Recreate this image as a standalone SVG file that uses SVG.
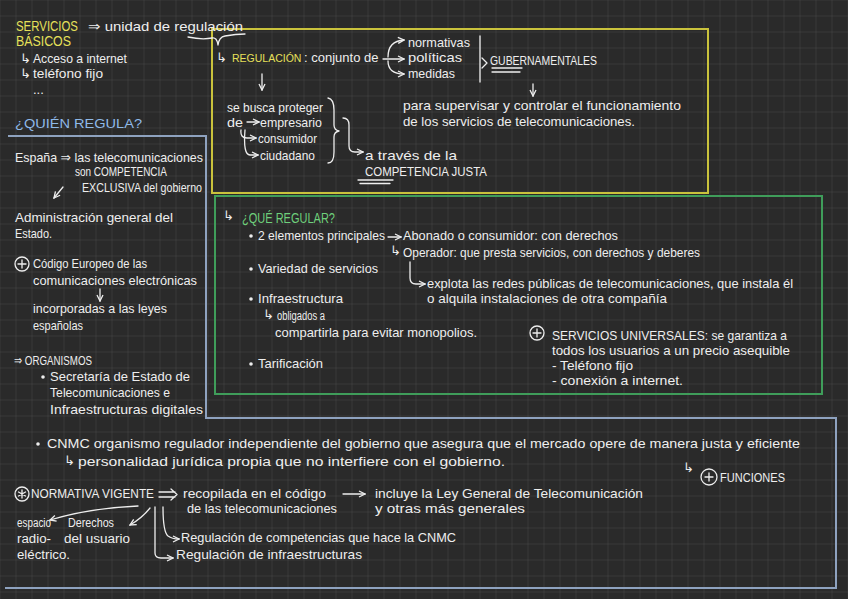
<svg xmlns="http://www.w3.org/2000/svg" width="848" height="599" viewBox="0 0 848 599">
<defs>
<pattern id="grid" x="15.5" y="15.5" width="16" height="16" patternUnits="userSpaceOnUse">
<path d="M0,0 H16 M0,0 V16" fill="none" stroke="#484848" stroke-width="1"/>
</pattern>
<marker id="ah" viewBox="0 0 8 8" refX="7" refY="4" markerWidth="8" markerHeight="8" markerUnits="userSpaceOnUse" orient="auto">
<path d="M1,1 L7,4 L1,7" fill="none" stroke="#eeeeee" stroke-width="1.3"/>
</marker>
<style>
text{font-family:"Liberation Sans","DejaVu Sans",sans-serif;font-size:13px;fill:#eeeeee}
.y{fill:#e6e05a}
.g{fill:#6fd07c}
.b{fill:#8fb9e8}
.cap{font-size:14px}
.sm{font-size:12px}
.sym{font-family:"DejaVu Sans",sans-serif}
.c{fill:none;stroke:#eeeeee;stroke-width:1.3;stroke-linecap:round;stroke-linejoin:round}
.ca{fill:none;stroke:#eeeeee;stroke-width:1.3;stroke-linecap:round;marker-end:url(#ah)}
.dot{fill:#eeeeee}
</style>
</defs>
<rect width="848" height="599" fill="#2a2a2a"/>
<rect width="848" height="599" fill="url(#grid)"/>

<g id="frames" fill="none" stroke-width="2">
<rect x="212" y="29" width="496" height="164" stroke="#c9c23c"/>
<rect x="215" y="196" width="607" height="198" stroke="#3f9d5a"/>
<path d="M8,136 H206 V418 H836 V588 H5" stroke="#8ea2bf"/>
</g>

<g id="servicios-basicos">
<text x="16" y="31" class="y cap" textLength="62" lengthAdjust="spacingAndGlyphs">SERVICIOS</text>
<text x="16" y="46" class="y cap" textLength="55" lengthAdjust="spacingAndGlyphs">BÁSICOS</text>
<text x="88" y="31" textLength="155" lengthAdjust="spacingAndGlyphs">⇒ unidad de regulación</text>
<text x="20" y="63" class="sym" font-size="11">↳</text>
<text x="33" y="63" textLength="94" lengthAdjust="spacingAndGlyphs">Acceso a internet</text>
<text x="20" y="78" class="sym" font-size="11">↳</text>
<text x="33" y="78" textLength="70" lengthAdjust="spacingAndGlyphs">teléfono fijo</text>
<text x="33" y="94" font-size="10">...</text>
</g>

<g id="regulacion">
<text x="216" y="62" class="sym" font-size="11">↳</text>
<text y="62"><tspan x="232" class="y" font-size="10.5">REGULACIÓN</tspan><tspan x="304">: conjunto de</tspan></text>
</g>

<g id="normativas">
<text x="408" y="47" textLength="62" lengthAdjust="spacingAndGlyphs">normativas</text>
<text x="408" y="62" textLength="54" lengthAdjust="spacingAndGlyphs">políticas</text>
<text x="408" y="78" textLength="47" lengthAdjust="spacingAndGlyphs">medidas</text>
</g>

<g id="gubernamentales">
<text x="490" y="65" textLength="107" lengthAdjust="spacingAndGlyphs">GUBERNAMENTALES</text>
</g>

<g id="supervisar">
<text x="403" y="110" textLength="278" lengthAdjust="spacingAndGlyphs">para supervisar y controlar el funcionamiento</text>
<text x="403" y="126" textLength="232" lengthAdjust="spacingAndGlyphs">de los servicios de telecomunicaciones.</text>
</g>

<g id="proteger">
<text x="227" y="112" textLength="96" lengthAdjust="spacingAndGlyphs">se busca proteger</text>
<text x="227" y="127" textLength="16" lengthAdjust="spacingAndGlyphs">de</text>
<text x="260" y="127" textLength="62" lengthAdjust="spacingAndGlyphs">empresario</text>
<text x="258" y="143" textLength="59" lengthAdjust="spacingAndGlyphs">consumidor</text>
<text x="260" y="160" textLength="55" lengthAdjust="spacingAndGlyphs">ciudadano</text>
</g>

<g id="competencia-justa">
<text x="365" y="160" textLength="92" lengthAdjust="spacingAndGlyphs">a través de la</text>
<text x="365" y="176" textLength="122" lengthAdjust="spacingAndGlyphs">COMPETENCIA JUSTA</text>
</g>

<g id="quien-regula">
<text x="15" y="128" class="b" font-size="15" textLength="127" lengthAdjust="spacingAndGlyphs">¿QUIÉN REGULA?</text>
<text x="15" y="162" textLength="188" lengthAdjust="spacingAndGlyphs">España ⇒ las telecomunicaciones</text>
<text x="75" y="176" textLength="92" lengthAdjust="spacingAndGlyphs">son COMPETENCIA</text>
<text x="82" y="192" class="sm" textLength="120" lengthAdjust="spacingAndGlyphs">EXCLUSIVA del gobierno</text>
</g>

<g id="administracion">
<text x="15" y="222" textLength="158" lengthAdjust="spacingAndGlyphs">Administración general del</text>
<text x="15" y="238" textLength="37" lengthAdjust="spacingAndGlyphs">Estado.</text>
</g>

<g id="codigo-europeo">
<circle cx="22" cy="264" r="7" fill="none" stroke="#eeeeee" stroke-width="1.3"/>
<path d="M18,264 H26 M22,260 V268" class="c"/>
<text x="33" y="268" textLength="114" lengthAdjust="spacingAndGlyphs">Código Europeo de las</text>
<text x="33" y="285" textLength="164" lengthAdjust="spacingAndGlyphs">comunicaciones electrónicas</text>
</g>

<g id="incorporadas">
<text x="33" y="313" textLength="134" lengthAdjust="spacingAndGlyphs">incorporadas a las leyes</text>
<text x="33" y="330" textLength="50" lengthAdjust="spacingAndGlyphs">españolas</text>
</g>

<g id="organismos">
<text x="14" y="365" textLength="78" lengthAdjust="spacingAndGlyphs">⇒ ORGANISMOS</text>
<circle cx="43" cy="377" r="1.8" class="dot"/>
<text x="50" y="381" textLength="140" lengthAdjust="spacingAndGlyphs">Secretaría de Estado de</text>
<text x="50" y="397" textLength="120" lengthAdjust="spacingAndGlyphs">Telecomunicaciones e</text>
<text x="50" y="414" textLength="153" lengthAdjust="spacingAndGlyphs">Infraestructuras digitales</text>
</g>

<g id="que-regular">
<text x="223" y="220" class="sym" font-size="11">↳</text>
<text x="242" y="223" class="g cap" textLength="93" lengthAdjust="spacingAndGlyphs">¿QUÉ REGULAR?</text>
</g>

<g id="elementos">
<circle cx="251" cy="236" r="1.8" class="dot"/>
<text x="258" y="240" textLength="127" lengthAdjust="spacingAndGlyphs">2 elementos principales</text>
<text x="403" y="240" textLength="215" lengthAdjust="spacingAndGlyphs">Abonado o consumidor: con derechos</text>
<text x="390" y="255" class="sym" font-size="11">↳</text>
<text x="403" y="257" textLength="297" lengthAdjust="spacingAndGlyphs">Operador: que presta servicios, con derechos y deberes</text>
</g>

<g id="explota">
<text x="427" y="288" textLength="366" lengthAdjust="spacingAndGlyphs">explota las redes públicas de telecomunicaciones, que instala él</text>
<text x="427" y="303" textLength="240" lengthAdjust="spacingAndGlyphs">o alquila instalaciones de otra compañía</text>
</g>

<g id="variedad">
<circle cx="251" cy="269" r="1.8" class="dot"/>
<text x="258" y="273" textLength="120" lengthAdjust="spacingAndGlyphs">Variedad de servicios</text>
</g>

<g id="infraestructura">
<circle cx="251" cy="299" r="1.8" class="dot"/>
<text x="258" y="303" textLength="85" lengthAdjust="spacingAndGlyphs">Infraestructura</text>
<text x="263" y="319" class="sym" font-size="11">↳</text>
<text x="277" y="320" class="sm" textLength="48" lengthAdjust="spacingAndGlyphs">obligados a</text>
<text x="275" y="337" textLength="202" lengthAdjust="spacingAndGlyphs">compartirla para evitar monopolios.</text>
</g>

<g id="tarificacion">
<circle cx="251" cy="364" r="1.8" class="dot"/>
<text x="258" y="368" textLength="65" lengthAdjust="spacingAndGlyphs">Tarificación</text>
</g>

<g id="servicios-universales">
<circle cx="537" cy="333" r="7" fill="none" stroke="#eeeeee" stroke-width="1.3"/>
<path d="M533,333 H541 M537,329 V337" class="c"/>
<text x="552" y="340" textLength="235" lengthAdjust="spacingAndGlyphs">SERVICIOS UNIVERSALES: se garantiza a</text>
<text x="552" y="355" textLength="238" lengthAdjust="spacingAndGlyphs">todos los usuarios a un precio asequible</text>
<text x="552" y="370" textLength="81" lengthAdjust="spacingAndGlyphs">- Teléfono fijo</text>
<text x="552" y="385" textLength="131" lengthAdjust="spacingAndGlyphs">- conexión a internet.</text>
</g>

<g id="cnmc">
<circle cx="38" cy="444" r="1.8" class="dot"/>
<text x="47" y="448" textLength="753" lengthAdjust="spacingAndGlyphs">CNMC organismo regulador independiente del gobierno que asegura que el mercado opere de manera justa y eficiente</text>
<text x="64" y="465" class="sym" font-size="11">↳</text>
<text x="78" y="466" textLength="427" lengthAdjust="spacingAndGlyphs">personalidad jurídica propia que no interfiere con el gobierno.</text>
</g>

<g id="funciones">
<text x="683" y="472" class="sym" font-size="11">↳</text>
<circle cx="709" cy="477" r="8" fill="none" stroke="#eeeeee" stroke-width="1.3"/>
<path d="M705,477 H713 M709,473 V481" class="c"/>
<text x="720" y="482" textLength="65" lengthAdjust="spacingAndGlyphs">FUNCIONES</text>
</g>

<g id="normativa-vigente">
<circle cx="22" cy="494" r="7" fill="none" stroke="#eeeeee" stroke-width="1.3"/>
<path d="M22,490 V498 M18.5,492 L25.5,496 M18.5,496 L25.5,492" class="c"/>
<text x="31" y="498" textLength="123" lengthAdjust="spacingAndGlyphs">NORMATIVA VIGENTE</text>
</g>

<g id="recopilada">
<text x="183" y="498" textLength="143" lengthAdjust="spacingAndGlyphs">recopilada en el código</text>
<text x="187" y="513" textLength="150" lengthAdjust="spacingAndGlyphs">de las telecomunicaciones</text>
</g>

<g id="ley-general">
<text x="375" y="498" textLength="268" lengthAdjust="spacingAndGlyphs">incluye la Ley General de Telecomunicación</text>
<text x="375" y="513" textLength="150" lengthAdjust="spacingAndGlyphs">y otras más generales</text>
</g>

<g id="espacio">
<text x="17" y="527" class="sm" textLength="34" lengthAdjust="spacingAndGlyphs">espacio</text>
<text x="17" y="543" class="sm" textLength="34" lengthAdjust="spacingAndGlyphs">radio-</text>
<text x="17" y="559" class="sm" textLength="53" lengthAdjust="spacingAndGlyphs">eléctrico.</text>
</g>

<g id="derechos">
<text x="68" y="527" class="sm" textLength="46" lengthAdjust="spacingAndGlyphs">Derechos</text>
<text x="64" y="543" class="sm" textLength="66" lengthAdjust="spacingAndGlyphs">del usuario</text>
</g>

<g id="regulacion-competencias">
<text x="181" y="542" textLength="275" lengthAdjust="spacingAndGlyphs">Regulación de competencias que hace la CNMC</text>
</g>

<g id="regulacion-infraestructuras">
<text x="176" y="559" textLength="186" lengthAdjust="spacingAndGlyphs">Regulación de infraestructuras</text>
</g>

<g id="connectors">
<path class="c" d="M188,37 Q202,40 212,38 Q217,37 218,45 Q219,37 225,36 Q236,34 245,34"/>
<path class="ca" d="M383,59 H404"/>
<path class="ca" d="M388,57 Q388,41 404,40"/>
<path class="ca" d="M388,61 Q388,74 404,74"/>
<path class="c" d="M480,36 V82 M482,58 L487,63 L482,68"/>
<path class="c" d="M492,68 H522 M492,72 H520"/>
<path class="ca" d="M262,74 V90"/>
<path class="ca" d="M533,84 V96"/>
<path class="ca" d="M247,122 H259"/>
<path class="ca" d="M241,130 Q240,138 247,138 H256"/>
<path class="ca" d="M245,130 Q243,155 250,155 H258"/>
<path class="c" d="M328,98 Q334,99 334,110 V125 Q334,130 339,131 Q334,132 334,137 V152 Q334,163 328,163"/>
<path class="ca" d="M343,118 Q349,118 349,125 V146 Q349,152 355,152 H363"/>
<path class="c" d="M358,180 H393 M360,183.5 H390"/>
<path class="ca" d="M63,187 L54,198"/>
<path class="ca" d="M100,289 V301"/>
<path class="ca" d="M388,237 H401"/>
<path class="ca" d="M410,262 V278 Q410,284 416,284 H425"/>
<path class="c" d="M159,492 H175 M159,497 H175 M171,489 L177,494.5 L171,500"/>
<path class="ca" d="M138,506 Q90,508 50,520"/>
<path class="ca" d="M150,508 Q142,518 130,525"/>
<path class="ca" d="M155,507 V553 Q155,558 161,558 H173"/>
<path class="ca" d="M163,507 Q163,532 168,536 Q172,539 179,539"/>
<path class="ca" d="M343,494 H365"/>
</g>
</svg>
